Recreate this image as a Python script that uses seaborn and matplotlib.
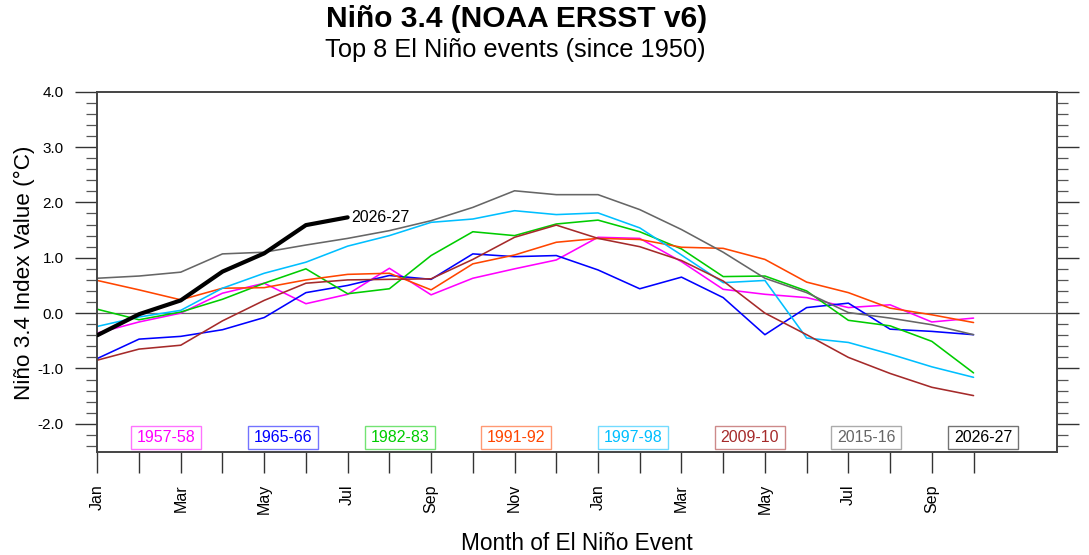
import matplotlib
matplotlib.use("Agg")
import matplotlib.pyplot as plt
from matplotlib.patches import Rectangle
from matplotlib.ticker import MultipleLocator
import numpy as np
import pandas as pd
import seaborn as sns

# ---------------- data ----------------
months = ["Jan", "Feb", "Mar", "Apr", "May", "Jun", "Jul", "Aug", "Sep", "Oct", "Nov", "Dec",
          "Jan", "Feb", "Mar", "Apr", "May", "Jun", "Jul", "Aug", "Sep", "Oct"]
events = ["1957-58", "1965-66", "1982-83", "1991-92", "1997-98", "2009-10", "2015-16", "2026-27"]

v1957 = [-0.36, -0.16, 0.00, 0.36, 0.54, 0.17, 0.34, 0.81, 0.33, 0.63, 0.80, 0.96,
         1.37, 1.35, 0.93, 0.43, 0.34, 0.28, 0.10, 0.15, -0.16, -0.09]
v1965 = [-0.82, -0.47, -0.42, -0.30, -0.08, 0.37, 0.50, 0.68, 0.61, 1.07, 1.02, 1.04,
         0.78, 0.44, 0.65, 0.28, -0.39, 0.10, 0.18, -0.29, -0.33, -0.39]
v1982 = [0.07, -0.12, 0.02, 0.25, 0.54, 0.80, 0.35, 0.44, 1.04, 1.47, 1.40, 1.61,
         1.68, 1.47, 1.16, 0.66, 0.67, 0.40, -0.13, -0.23, -0.51, -1.08]
v1991 = [0.59, 0.42, 0.24, 0.45, 0.46, 0.60, 0.70, 0.72, 0.42, 0.89, 1.05, 1.28,
         1.35, 1.33, 1.19, 1.17, 0.97, 0.56, 0.37, 0.09, -0.03, -0.17]
v1997 = [-0.24, -0.07, 0.05, 0.45, 0.72, 0.92, 1.21, 1.40, 1.64, 1.70, 1.85, 1.78,
         1.81, 1.54, 1.05, 0.55, 0.59, -0.45, -0.53, -0.74, -0.97, -1.16]
v2009 = [-0.85, -0.65, -0.58, -0.14, 0.23, 0.54, 0.60, 0.61, 0.62, 0.97, 1.37, 1.59,
         1.35, 1.20, 0.95, 0.58, 0.00, -0.39, -0.80, -1.09, -1.34, -1.49]
v2015 = [0.63, 0.67, 0.74, 1.07, 1.10, 1.23, 1.35, 1.49, 1.67, 1.91, 2.21, 2.14,
         2.14, 1.87, 1.51, 1.10, 0.63, 0.37, 0.01, -0.09, -0.21, -0.39]
v2026 = [-0.40, -0.02, 0.23, 0.75, 1.08, 1.59, 1.73]

series = [v1957, v1965, v1982, v1991, v1997, v2009, v2015, v2026]
colors = ["#ff00ff", "#0000ff", "#00cc00", "#ff4500", "#00bfff", "#a52a2a", "#666666", "#000000"]
yticks = [-2.0, -1.0, 0.0, 1.0, 2.0, 3.0, 4.0]

rows = []
for ev, vals in zip(events, series):
    for i, v in enumerate(vals):
        rows.append({"event": ev, "month": i, "value": v})
df = pd.DataFrame(rows)

# ---------------- style ----------------
sns.set_theme(style="white")
plt.rcParams["font.family"] = ["Liberation Sans", "DejaVu Sans"]
plt.rcParams["text.color"] = "black"
plt.rcParams["axes.labelcolor"] = "black"
plt.rcParams["xtick.color"] = "black"
plt.rcParams["ytick.color"] = "black"

W, H = 1089, 555
fig = plt.figure(figsize=(W / 100, H / 100), dpi=100)
ax = fig.add_axes([97.3 / W, 1 - 451.5 / H, (1057 - 97.3) / W, (451.5 - 91.7) / H])

ax.axhline(0, color="#666666", lw=0.9, zorder=1)

for ev, col in zip(events, colors):
    sub = df[df["event"] == ev]
    lw = 3.0 if ev == "2026-27" else 1.15
    sns.lineplot(data=sub, x="month", y="value", color=col, lw=lw, ax=ax,
                 estimator=None, sort=False, legend=False, zorder=3 if ev == "2026-27" else 2)

ax.text(len(v2026) - 1 + 0.08, v2026[-1], "2026-27", fontsize=11.5, color="black",
        ha="left", va="center")

ax.set_xlim(0, 23)
ax.set_ylim(-2.5, 4.0)
ax.set_xticks(range(len(months)))
ax.set_xticklabels([m if i % 2 == 0 else "" for i, m in enumerate(months)],
                   rotation=90, fontsize=11.5)
ax.set_yticks(yticks)
ax.set_yticklabels([f"{t:.1f}" for t in yticks], fontsize=11)
ax.yaxis.set_minor_locator(MultipleLocator(0.2))
ax.set_xlabel("")
ax.set_ylabel("")

ax.tick_params(axis="y", which="major", direction="out", length=15.8, width=1.0,
               left=True, right=True, labelleft=True, labelright=False, pad=8.5,
               color="#333333", labelcolor="black")
ax.tick_params(axis="y", which="minor", direction="out", length=8, width=0.9,
               left=True, right=True, color="#555555")
ax.tick_params(axis="x", which="major", direction="out", length=15, width=1.0,
               bottom=True, top=False, pad=8.5, color="#333333", labelcolor="black")
ax.tick_params(axis="x", which="minor", bottom=False, top=False)

for s in ax.spines.values():
    s.set_color("#444444")
    s.set_linewidth(1.4)
    s.set_visible(True)

# event boxes
bw, bh = 70 / 959.7, 23.3 / 359.8
for k, (ev, col) in enumerate(zip(events, colors)):
    xc = 0.0719 + k * 0.1216
    yc = 0.0393
    ax.add_patch(Rectangle((xc - bw / 2, yc - bh / 2), bw, bh, transform=ax.transAxes,
                           facecolor="white", edgecolor=col, alpha=0.55, lw=1.0, zorder=5))
    ax.text(xc, yc, ev, transform=ax.transAxes, ha="center", va="center",
            fontsize=11.5, color=col, zorder=6)

# titles and labels
fig.text(517 / W, 1 - 26.7 / H, "Niño 3.4 (NOAA ERSST v6)", ha="center", va="baseline",
         fontsize=21.5, fontweight="bold", color="black")
fig.text(515 / W, 1 - 56.7 / H, "Top 8 El Niño events (since 1950)", ha="center",
         va="baseline", fontsize=18.3, color="black")
fig.text(24 / W, 1 - 273 / H, "Niño 3.4 Index Value (°C)", rotation=90, ha="center",
         va="center", fontsize=16.2, color="black")
fig.text(577 / W, 1 - 549.5 / H, "Month of El Niño Event", ha="center", va="baseline",
         fontsize=16.3, color="black")

fig.savefig("out.png", dpi=100)
